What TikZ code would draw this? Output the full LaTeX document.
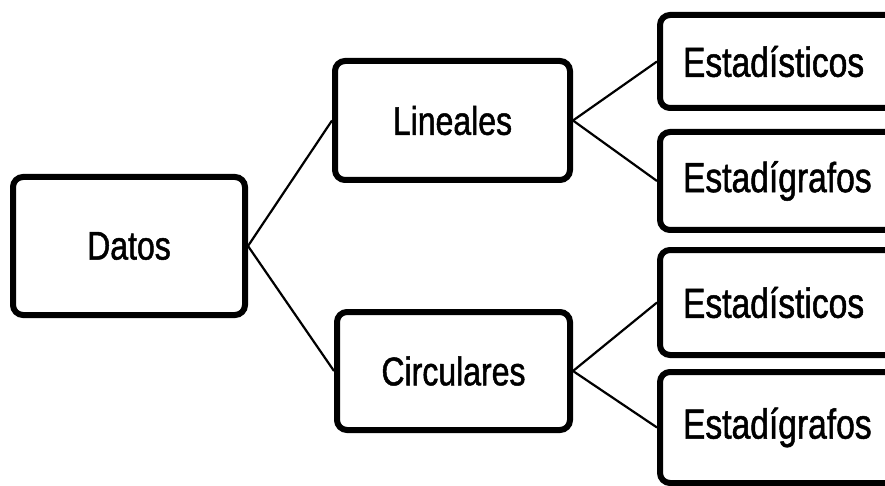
\documentclass[tikz,border=0pt]{standalone}
\usepackage{fontspec}
\newfontfamily\boxfont[FakeStretch=0.8,FakeBold=1.2]{Liberation Sans}
\begin{document}
\begin{tikzpicture}[x=1pt,y=-1pt,
  box/.style={draw=black, line width=6pt, rounded corners=10pt, fill=white,
    inner sep=0pt, font=\boxfont\fontsize{40}{48}\selectfont},
  leafbox/.style={box, minimum width=250pt, text width=204pt, align=left,
    inner xsep=23pt, font=\boxfont\fontsize{42}{50}\selectfont},
  link/.style={draw=black, line width=2.2pt}]
\useasboundingbox (0,0) rectangle (885,486);
\clip (0,0) rectangle (885,486);
\fill[white] (0,0) rectangle (885,486);
\node[box, minimum width=232pt, minimum height=138pt] (datos) at (129,246) {Datos};
\node[box, minimum width=235pt, minimum height=119pt] (lin) at (452.5,120.5) {Lineales};
\node[box, minimum width=233pt, minimum height=118pt] (circ) at (453.5,371) {Circulares};
\node[leafbox, minimum height=93pt] (e1) at (785,61.5) {Estadísticos};
\node[leafbox, minimum height=98pt] (g1) at (785,181) {Estadígrafos};
\node[leafbox, minimum height=105pt] (e2) at (785,302.5) {Estadísticos};
\node[leafbox, minimum height=111pt] (g2) at (785,427.5) {Estadígrafos};
\draw[link] (datos.east) -- (lin.west);
\draw[link] (datos.east) -- (circ.west);
\draw[link] (lin.east) -- (e1.west);
\draw[link] (lin.east) -- (g1.west);
\draw[link] (circ.east) -- (e2.west);
\draw[link] (circ.east) -- (g2.west);
\end{tikzpicture}
\end{document}
